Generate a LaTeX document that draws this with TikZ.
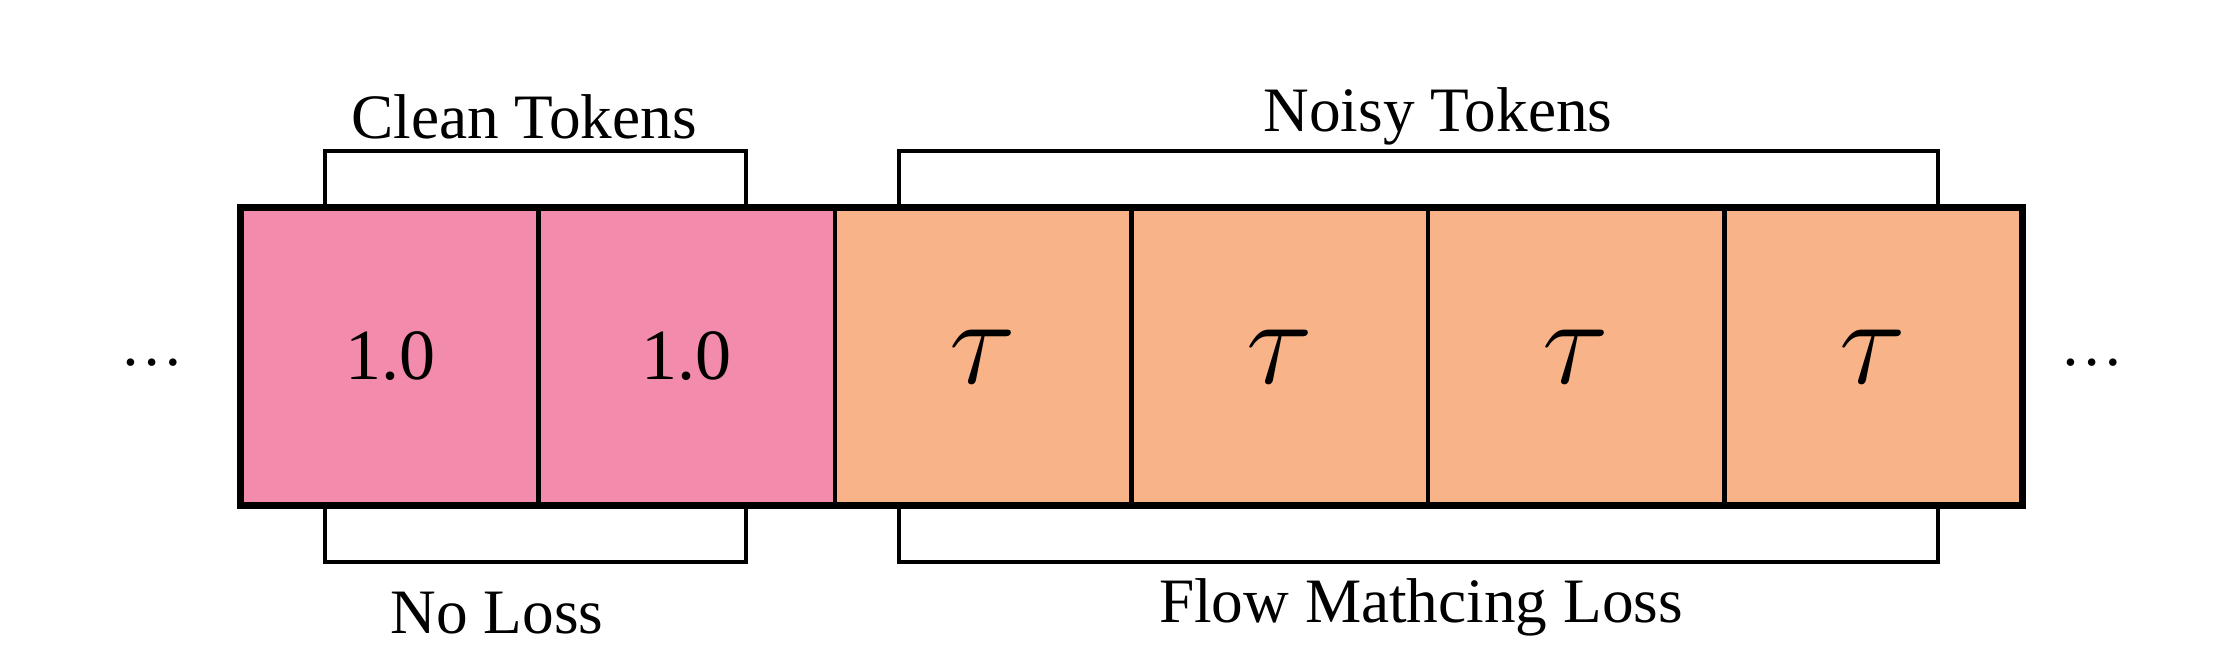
\documentclass[tikz,border=0pt]{standalone}
\usepackage{fontspec}
\setmainfont{Liberation Serif}
\usepackage{tikz}
\usetikzlibrary{positioning,calc}

\definecolor{cleanpink}{RGB}{243,139,173}
\definecolor{noisyorange}{RGB}{249,179,136}

\begin{document}
\begin{tikzpicture}[
  tok/.style={rectangle, draw=black, line width=1.2pt, minimum width=2.965cm, minimum height=2.95cm, inner sep=0pt, font={\fontsize{20.5}{24}\selectfont}},
  cleantok/.style={tok, fill=cleanpink},
  noisytok/.style={tok, fill=noisyorange},
  bracket/.style={line width=1.0pt},
  lbl/.style={anchor=base, inner sep=0pt, font={\fontsize{18}{22}\selectfont}}
]
\useasboundingbox (0,0) rectangle (22.19,6.60);
\node[cleantok] (c0) at (3.9025,3.035) {1.0};
\node[cleantok] (c1) at (6.8675,3.035) {1.0};
\node[noisytok] (n0) at (9.8325,3.035) {\scalebox{1.7}{$\tau$}};
\node[noisytok] (n1) at (12.7975,3.035) {\scalebox{1.7}{$\tau$}};
\node[noisytok] (n2) at (15.7625,3.035) {\scalebox{1.7}{$\tau$}};
\node[noisytok] (n3) at (18.7275,3.035) {\scalebox{1.7}{$\tau$}};
\draw[line width=1.6pt] (c0.north west) rectangle (n3.south east);
% brackets
\draw[bracket] ([xshift=0.85cm]c0.north west) -- ++(0,0.56) -| ([xshift=-0.91cm]c1.north east);
\draw[bracket] ([xshift=0.66cm]n0.north west) -- ++(0,0.56) -| ([xshift=-0.85cm]n3.north east);
\draw[bracket] ([xshift=0.85cm]c0.south west) -- ++(0,-0.56) -| ([xshift=-0.91cm]c1.south east);
\draw[bracket] ([xshift=0.66cm]n0.south west) -- ++(0,-0.56) -| ([xshift=-0.85cm]n3.south east);
\node[lbl] (cleanlbl) at (5.24,5.22) {Clean Tokens};
\node[lbl] (noisylbl) at (14.38,5.29) {Noisy Tokens};
\node[lbl] (nolosslbl) at (4.97,0.27) {No Loss};
\node[lbl] (fmlosslbl) at (14.21,0.38) {Flow Mathcing Loss};
\node[lbl] (ldots) at (1.52,2.95) {…};
\node[lbl] (rdots) at (20.92,2.95) {…};
\end{tikzpicture}
\end{document}
